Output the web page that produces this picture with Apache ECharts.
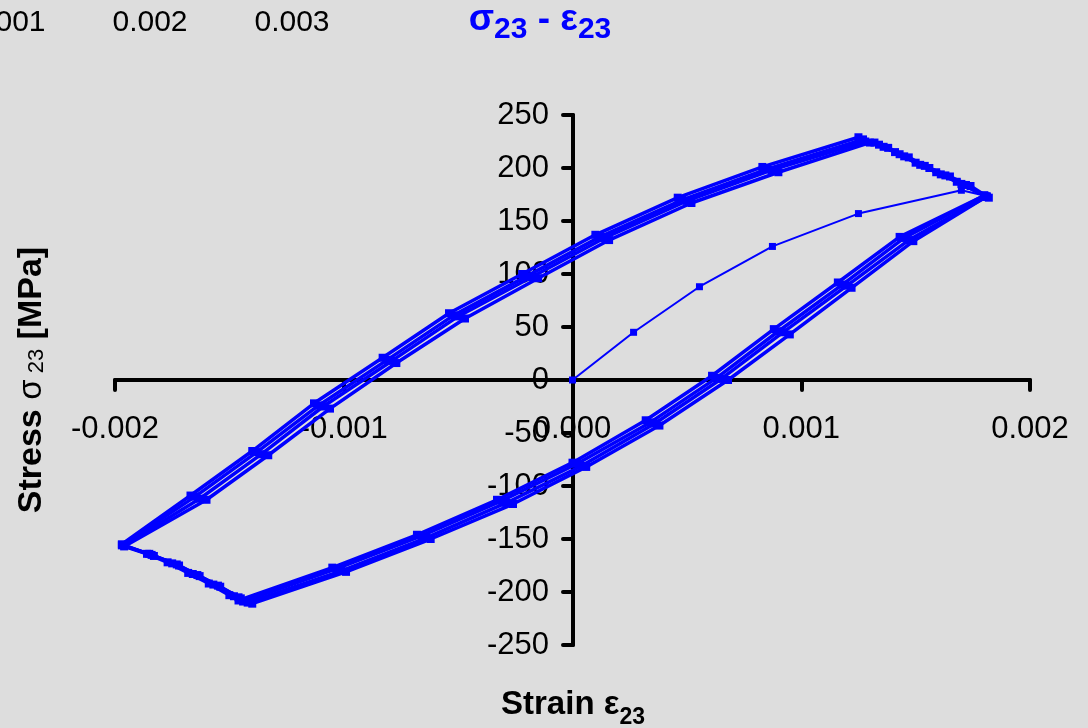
<!DOCTYPE html>
<html>
<head>
<meta charset="utf-8">
<script src="https://cdn.jsdelivr.net/npm/echarts@6/dist/echarts.min.js"></script>
<style>
  html, body { margin: 0; padding: 0; background: #dddddd; }
  #chart { width: 1088px; height: 728px; }
</style>
</head>
<body>
<div id="chart"></div>
<script>
// tick labels
const xTickLabels = ['-0.002', '-0.001', '0.000', '0.001', '0.002']
const yTickLabels = ['-250', '-200', '-150', '-100', '-50', '0', '50', '100', '150', '200', '250']
// leftover labels from the neighbouring chart at the top
const topLabels = ['0.001', '0.002', '0.003']

// first loading, [strain, stress MPa]
const initialLoading = [
  [0, 0], [0.000267, 45], [0.000555, 88], [0.000874, 126], [0.00125, 157], [0.0017, 179], [0.0018, 174]
]

// cycles: unloading branch from the right tip, then reloading branch back to it
const cycle1 = [
  [0.00180, 174], [0.00143, 135], [0.00116, 92], [0.00088, 48], [0.00061, 4], [0.00032, -38],
  [0.00000, -78], [-0.00033, -113], [-0.00068, -146], [-0.00105, -177], [-0.00146, -208],
  [-0.00150, -203], [-0.00159, -192], [-0.00168, -182], [-0.00177, -172], [-0.00186, -164], [-0.00197, -155],
  [-0.00167, -109], [-0.00140, -67], [-0.00113, -22], [-0.00083, 21], [-0.00054, 63], [-0.00022, 100],
  [0.00010, 137], [0.00046, 172], [0.00083, 201], [0.00125, 229],
  [0.00132, 224], [0.00141, 215], [0.00150, 205], [0.00159, 196], [0.00168, 187], [0.00180, 174]
]
const cycle2 = [
  [0.00180, 174], [0.00145, 134], [0.00118, 90], [0.00090, 46], [0.00063, 2], [0.00034, -40],
  [0.00002, -79], [-0.00031, -114], [-0.00066, -147], [-0.00103, -178], [-0.00144, -209],
  [-0.00148, -204], [-0.00157, -193], [-0.00166, -183], [-0.00175, -173], [-0.00185, -164], [-0.00197, -156],
  [-0.00165, -110], [-0.00138, -68], [-0.00111, -24], [-0.00081, 19], [-0.00052, 61], [-0.00020, 98],
  [0.00012, 135], [0.00048, 170], [0.00085, 199], [0.00127, 227],
  [0.00134, 222], [0.00143, 213], [0.00152, 203], [0.00161, 194], [0.00170, 185], [0.00181, 173]
]
const cycle3 = [
  [0.00181, 173], [0.00147, 132], [0.00120, 89], [0.00092, 45], [0.00065, 1], [0.00036, -41],
  [0.00004, -81], [-0.00029, -116], [-0.00064, -149], [-0.00101, -180], [-0.00142, -210],
  [-0.00146, -205], [-0.00155, -194], [-0.00164, -184], [-0.00173, -174], [-0.00184, -165], [-0.00196, -156],
  [-0.00163, -112], [-0.00136, -70], [-0.00109, -25], [-0.00079, 18], [-0.00050, 60], [-0.00018, 97],
  [0.00014, 134], [0.00050, 169], [0.00087, 198], [0.00128, 225],
  [0.00136, 220], [0.00145, 211], [0.00154, 202], [0.00163, 193], [0.00172, 184], [0.00181, 173]
]
const cycle4 = [
  [0.00181, 173], [0.00149, 131], [0.00122, 87], [0.00095, 43], [0.00068, 0], [0.00038, -43],
  [0.00006, -82], [-0.00026, -117], [-0.00062, -150], [-0.00099, -181], [-0.00140, -211],
  [-0.00145, -206], [-0.00154, -195], [-0.00163, -185], [-0.00172, -175], [-0.00183, -166], [-0.00196, -157],
  [-0.00160, -113], [-0.00133, -71], [-0.00106, -27], [-0.00077, 16], [-0.00047, 58], [-0.00015, 96],
  [0.00016, 132], [0.00052, 167], [0.00090, 196], [0.00130, 224],
  [0.00138, 219], [0.00147, 210], [0.00156, 200], [0.00165, 192], [0.00174, 183], [0.00182, 172]
]

const FONT = '"Liberation Sans", Arial, sans-serif'
const BLUE = '#0000ff'

function loopSeries(name, data) {
  return {
    name: name,
    type: 'line',
    data: data,
    symbol: 'rect',
    symbolSize: 8,
    showAllSymbol: true,
    lineStyle: { color: BLUE, width: 3.5 },
    itemStyle: { color: BLUE },
    z: 3
  }
}

const chart = echarts.init(document.getElementById('chart'), null, { renderer: 'canvas' })

// plot area: 115..1030 wide, 115..645 high; axes cross at the origin
// (x = 573, y = 380), so the axes are shifted in with offset
var option = {
  backgroundColor: '#dddddd',
  animation: false,
  textStyle: { fontFamily: FONT },
  grid: { left: 115, right: 58, top: 115, bottom: 83 },
  xAxis: {
    type: 'value',
    min: -0.002,
    max: 0.002,
    interval: 0.001,
    offset: -265,
    axisLine: { onZero: false, lineStyle: { color: '#000', width: 4 } },
    axisTick: { show: true, length: 10, lineStyle: { color: '#000', width: 4, cap: 'round' } },
    axisLabel: {
      color: '#000', fontSize: 31, fontFamily: FONT, margin: 34,
      formatter: (v, i) => xTickLabels[i]
    },
    splitLine: { show: false }
  },
  yAxis: {
    type: 'value',
    min: -250,
    max: 250,
    interval: 50,
    offset: -458,
    axisLine: { show: true, onZero: false, lineStyle: { color: '#000', width: 4 } },
    axisTick: { show: true, length: 10, lineStyle: { color: '#000', width: 4, cap: 'round' } },
    axisLabel: {
      color: '#000', fontSize: 31, fontFamily: FONT, margin: 24,
      formatter: (v, i) => yTickLabels[i]
    },
    splitLine: { show: false }
  },
  graphic: [
    // title
    {
      type: 'text', x: 540, y: 20,
      style: {
        text: '{m|σ}{s|23}{m| - ε}{s|23}',
        align: 'center', verticalAlign: 'middle',
        rich: {
          m: { fontSize: 37, fontWeight: 'bold', fill: BLUE, fontFamily: FONT },
          s: { fontSize: 30, fontWeight: 'bold', fill: BLUE, fontFamily: FONT, padding: [20, 0, 0, 0] }
        }
      }
    },
    // x axis name
    {
      type: 'text', x: 573, y: 705,
      style: {
        text: '{m|Strain ε}{s|23}',
        align: 'center', verticalAlign: 'middle',
        rich: {
          m: { fontSize: 33, fontWeight: 'bold', fill: '#000', fontFamily: FONT },
          s: { fontSize: 23, fontWeight: 'bold', fill: '#000', fontFamily: FONT, padding: [26, 0, 0, 0] }
        }
      }
    },
    // y axis name
    {
      type: 'text', x: 32, y: 380, rotation: Math.PI / 2,
      style: {
        text: '{m|Stress }{g|σ}{s| 23}{m| [MPa]}',
        align: 'center', verticalAlign: 'middle',
        rich: {
          m: { fontSize: 34, fontWeight: 'bold', fill: '#000', fontFamily: FONT },
          g: { fontSize: 33, fill: '#000', fontFamily: FONT },
          s: { fontSize: 22, fill: '#000', fontFamily: FONT, padding: [10, 0, 0, 0] }
        }
      }
    }
  ].concat(topLabels.map((t, i) => ({
    type: 'text', x: 8 + i * 142, y: 23,
    style: { text: t, fill: '#000', fontSize: 30, fontFamily: FONT, align: 'center', verticalAlign: 'middle' }
  }))),
  series: [
    {
      name: 'initial',
      type: 'line',
      data: initialLoading,
      symbol: 'rect',
      symbolSize: 7,
      lineStyle: { color: BLUE, width: 2 },
      itemStyle: { color: BLUE },
      z: 3
    },
    loopSeries('cycle 1', cycle1),
    loopSeries('cycle 2', cycle2),
    loopSeries('cycle 3', cycle3),
    loopSeries('cycle 4', cycle4)
  ]
}

chart.setOption(option)
</script>
</body>
</html>
